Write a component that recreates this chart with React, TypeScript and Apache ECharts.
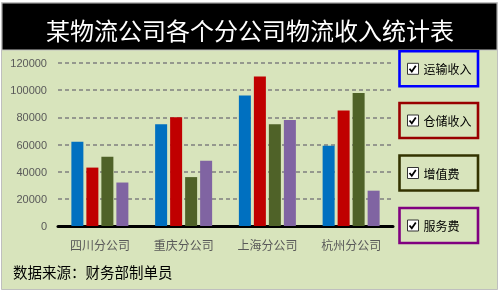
import React, { useEffect, useRef } from 'react';
import * as echarts from 'echarts';

const categories = ['四川分公司', '重庆分公司', '上海分公司', '杭州分公司'];
const seriesNames = ['运输收入', '仓储收入', '增值费', '服务费'];
const transportIncome = [62000, 75000, 96000, 59000];
const storageIncome = [43000, 80000, 110000, 85000];
const valueAddedFee = [51000, 36000, 75000, 98000];
const serviceFee = [32000, 48000, 78000, 26000];
const yMax = 120000;
const yInterval = 20000;
const titleText = '某物流公司各个分公司物流收入统计表';
const footerText = '数据来源：财务部制单员';

const seriesColors = ['#0070c0', '#c00000', '#4f6228', '#8064a2'];
const legendBorderColors = ['#0000ff', '#990000', '#333300', '#800080'];
const legendTops = [51.3, 103, 155.5, 208];

const CJK = '"Noto Sans CJK SC", sans-serif';
const NUM = '"Liberation Sans", Arial, sans-serif';

export default function App() {
  const ref = useRef<HTMLDivElement>(null);
  useEffect(() => {
    if (!ref.current) return;
    const chart = echarts.init(ref.current, null, { renderer: 'svg' });
    const values = [transportIncome, storageIncome, valueAddedFee, serviceFee];

    const legends = seriesNames.map((name, i) => {
      const textW = name.length * 12;
      const contentW = 11 + 5 + textW;
      const left = 7.5;
      const right = 78 - left - contentW;
      return {
        data: [name],
        left: 399.5,
        top: legendTops[i],
        orient: 'horizontal',
        selectedMode: false,
        padding: [10.5, right, 10.5, left],
        borderColor: legendBorderColors[i],
        borderWidth: 2.6,
        backgroundColor: 'transparent',
        icon: 'rect',
        itemWidth: 11,
        itemHeight: 11,
        itemStyle: { color: '#ffffff', borderColor: '#333333', borderWidth: 1 },
        textStyle: { color: '#000000', fontSize: 12, fontFamily: CJK, lineHeight: 14 },
      };
    });

    const checks = legendTops.map((t) => {
      const x0 = 399.5 + 7.5;
      const y0 = t + 12;
      return {
        type: 'polyline',
        z: 100,
        shape: { points: [[x0 + 2.5, y0 + 5.5], [x0 + 4.8, y0 + 8.3], [x0 + 8.8, y0 + 2.5]] },
        style: { stroke: '#000000', lineWidth: 1.8, fill: null },
      };
    });

    chart.setOption({
      animation: false,
      title: {
        text: titleText,
        left: 'center',
        top: 17,
        padding: 0,
        textStyle: { color: '#ffffff', fontSize: 24, fontWeight: 'normal', fontFamily: CJK },
      },
      graphic: [
        {
          type: 'rect',
          z: -10,
          silent: true,
          shape: { x: 1.5, y: 2.5, width: 496, height: 287 },
          style: { fill: '#d8e4bc', stroke: '#bfbfbf', lineWidth: 1 },
        },
        {
          type: 'rect',
          z: -9,
          silent: true,
          shape: { x: 2, y: 3, width: 495, height: 47 },
          style: { fill: '#000000', stroke: '#c0c0c0', lineWidth: 1 },
        },
        {
          type: 'text',
          left: 13,
          top: 264,
          style: { text: footerText, fill: '#000000', fontSize: 14.5, fontFamily: CJK },
        },
        ...checks,
      ],
      legend: legends,
      grid: { left: 58, right: 107, top: 63, bottom: 67 },
      xAxis: {
        type: 'category',
        data: categories,
        axisLine: { show: true, lineStyle: { color: '#000000', width: 3 } },
        axisTick: { show: false },
        axisLabel: { color: '#595959', fontSize: 12, fontFamily: CJK, margin: 12 },
      },
      yAxis: {
        type: 'value',
        min: 0,
        max: yMax,
        interval: yInterval,
        axisLine: { show: false },
        axisTick: { show: false },
        axisLabel: {
          color: '#595959',
          fontSize: 11,
          fontFamily: NUM,
          margin: 11,
          formatter: (v: number) => String(v),
        },
        splitLine: { show: true, lineStyle: { color: '#7f7f7f', width: 1.5, type: [4, 3] } },
      },
      series: seriesNames.map((name, i) => ({
        name,
        type: 'bar',
        data: values[i],
        barWidth: 12,
        barGap: '25%',
        itemStyle: { color: seriesColors[i] },
      })),
    });
    return () => chart.dispose();
  }, []);
  return <div ref={ref} style={{ position: 'fixed', left: 0, top: 0, width: 500, height: 293 }} />;
}
